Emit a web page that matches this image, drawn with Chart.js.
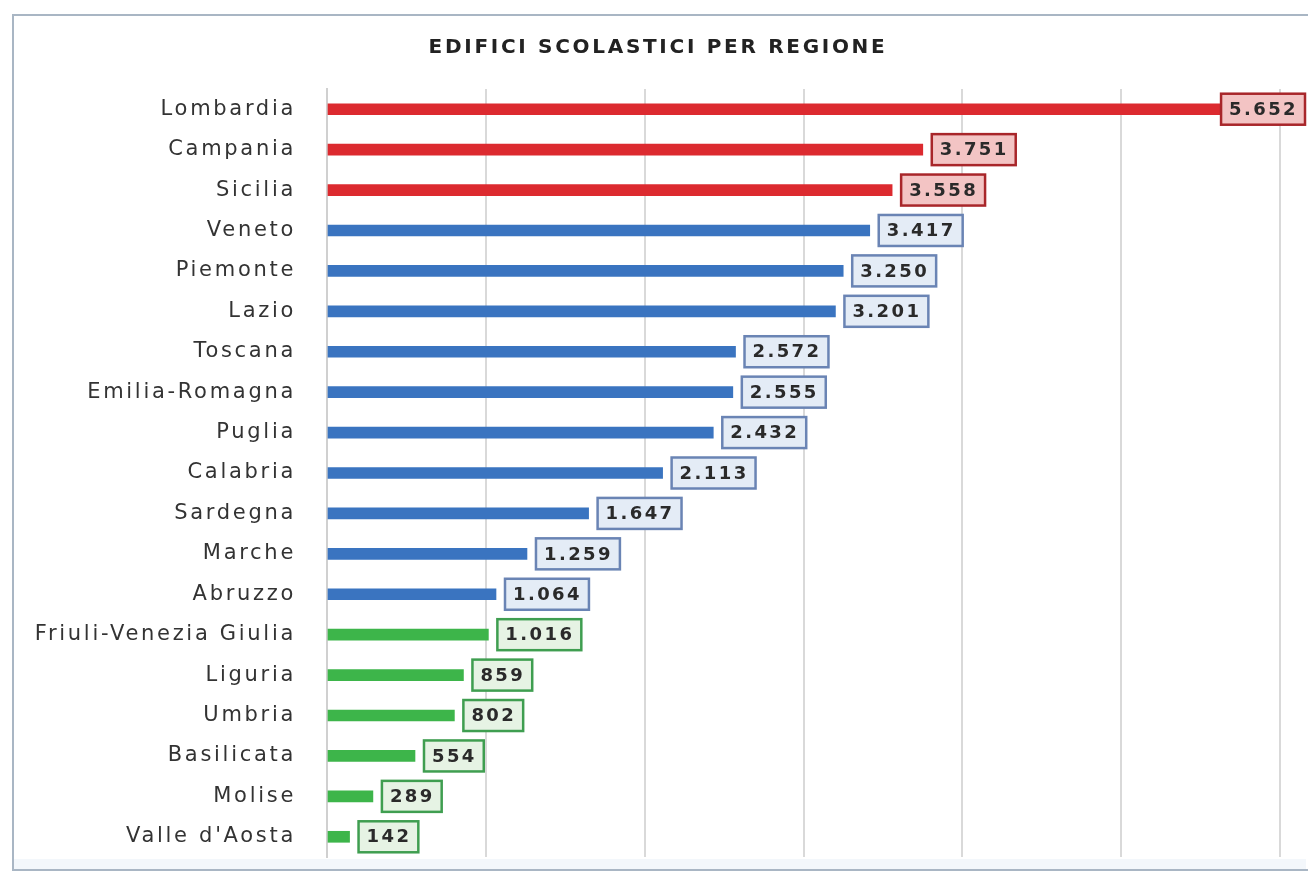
<!DOCTYPE html>
<html>
<head>
<meta charset="utf-8">
<style>
  html, body { margin: 0; padding: 0; background: #fff; overflow: hidden; }
  canvas { display: block; }
</style>
<script src="https://cdn.jsdelivr.net/npm/chart.js@4.4.1/dist/chart.umd.min.js"></script>
</head>
<body>
<canvas id="edificiChart" width="1308" height="876"></canvas>
<script>
// dati: edifici scolastici per regione
var regioni = ["Lombardia", "Campania", "Sicilia", "Veneto", "Piemonte", "Lazio", "Toscana",
  "Emilia-Romagna", "Puglia", "Calabria", "Sardegna", "Marche", "Abruzzo",
  "Friuli-Venezia Giulia", "Liguria", "Umbria", "Basilicata", "Molise", "Valle d'Aosta"];
var edifici = [5652, 3751, 3558, 3417, 3250, 3201, 2572, 2555, 2432, 2113, 1647, 1259, 1064,
  1016, 859, 802, 554, 289, 142];
// fascia di ogni regione (alta / media / bassa)
var fasce = ["alta", "alta", "alta", "media", "media", "media", "media", "media", "media",
  "media", "media", "media", "media", "bassa", "bassa", "bassa", "bassa", "bassa", "bassa"];

var colori = {
  alta:  { bar: "#dc2a2f", box: "#f3c4c4", border: "#a8262a" },
  media: { bar: "#3a74c0", box: "#e4ecf6", border: "#6a84b4" },
  bassa: { bar: "#3db54a", box: "#e6f3e4", border: "#3f9e50" }
};

function formatta(n) {
  return String(n).replace(/\B(?=(\d{3})+(?!\d))/g, ".");
}

// cornice esterna + testo spaziato
var cornice = {
  id: 'cornice',
  beforeDraw: function(chart) {
    var c = chart.ctx;
    c.save();
    c.fillStyle = "#fff";
    c.fillRect(0, 0, chart.width, chart.height);
    c.fillStyle = "#f3f7fb";
    c.fillRect(14, 859, 1292, 11);
    c.strokeStyle = "#a9b6c4";
    c.lineWidth = 2;
    c.strokeRect(13, 15, 1300, 855);
    c.restore();
    c.letterSpacing = "2.7px";
  },
  afterDraw: function(chart) {
    chart.ctx.letterSpacing = "0px";
  }
};

// etichette con riquadro
var etichette = {
  id: 'etichette',
  afterDatasetsDraw: function(chart) {
    var c = chart.ctx;
    var meta = chart.getDatasetMeta(0);
    c.save();
    c.font = "bold 18px 'DejaVu Sans'";
    c.letterSpacing = "2.4px";
    c.textBaseline = "middle";
    meta.data.forEach(function(bar, i) {
      var col = colori[fasce[i]];
      var txt = formatta(edifici[i]);
      var w = c.measureText(txt).width + 15;
      var h = 31;
      var x = bar.x + 9;
      if (x + w > chart.width - 3) x = chart.width - 3 - w;
      var y = bar.y - h / 2;
      c.fillStyle = col.box;
      c.fillRect(x, y, w, h);
      c.strokeStyle = col.border;
      c.lineWidth = 2.5;
      c.strokeRect(x, y, w, h);
      c.fillStyle = "#2a2a2a";
      c.textAlign = "left";
      c.fillText(txt, x + 8, bar.y + 1);
    });
    c.restore();
  }
};

var ctx = document.getElementById('edificiChart');
var chart = new Chart(ctx, {
  type: 'bar',
  data: {
    labels: regioni,
    datasets: [
      {
        data: edifici,
        backgroundColor: fasce.map(function(f) { return colori[f].bar; }),
        barThickness: 11
      }
    ]
  },
  plugins: [cornice, etichette],
  options: {
    indexAxis: 'y',
    responsive: false,
    animation: false,
    layout: { padding: { left: 36, right: 28, top: 36, bottom: 19 } },
    plugins: {
      legend: { display: false },
      tooltip: { enabled: false },
      title: {
        display: true,
        text: "EDIFICI SCOLASTICI PER REGIONE",
        color: "#222",
        font: { family: "'DejaVu Sans'", size: 20, weight: 'bold' },
        padding: { top: 0, bottom: 29 }
      }
    },
    scales: {
      x: {
        min: 0,
        max: 6000,
        ticks: { display: false, stepSize: 1000 },
        grid: { color: "#d9d9d9", lineWidth: 2, drawTicks: false },
        border: { display: false },
        afterFit: function(s) { s.height = 0; }
      },
      y: {
        grid: { display: false },
        border: { display: true, color: "#d0d0d0", width: 2 },
        ticks: {
          color: "#333",
          padding: 23,
          font: { family: "'DejaVu Sans'", size: 21 }
        },
        afterFit: function(s) {
          s.width = 291;
          s.paddingTop = 0;
          s.paddingBottom = 0;
        }
      }
    }
  }
});
</script>
</body>
</html>
